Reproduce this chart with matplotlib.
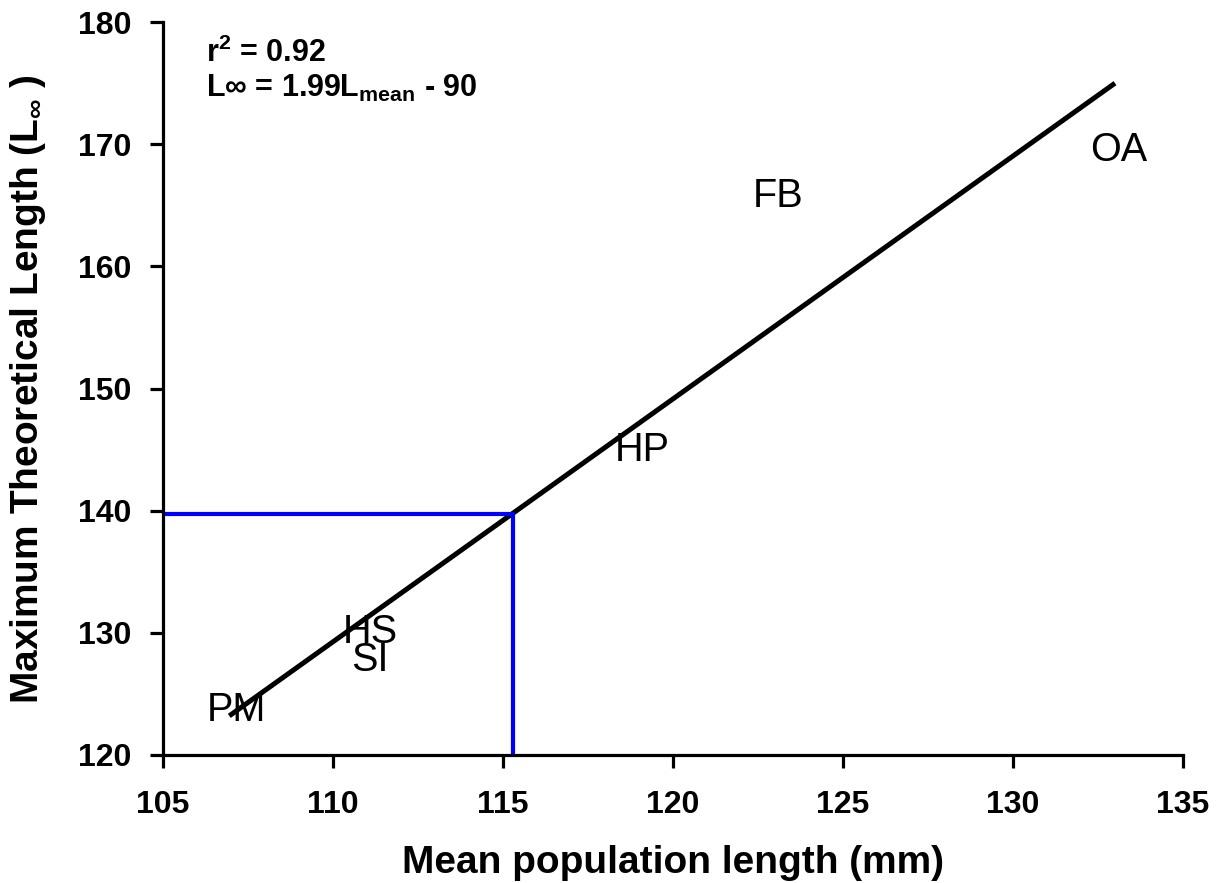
import matplotlib
matplotlib.use('Agg')
from matplotlib import pyplot as plt

plt.rcParams['font.family'] = ['Liberation Sans', 'DejaVu Sans']
plt.rcParams['mathtext.fontset'] = 'custom'
plt.rcParams['mathtext.rm'] = 'Liberation Sans:bold'
plt.rcParams['mathtext.it'] = 'Liberation Sans:bold'
plt.rcParams['mathtext.bf'] = 'Liberation Sans:bold'

# species labels, placed at (mean length, L-infinity)
species = ['PM', 'HS', 'SI', 'HP', 'FB', 'OA']
mean_len = [107.15, 111.1, 111.1, 119.1, 123.1, 133.1]
linf = [123.7, 130.1, 127.8, 145.0, 165.8, 169.5]

# regression line endpoints
fit_x = [106.95, 133.0]
fit_y = [123.2, 175.0]

# blue guide lines
guide_x = 115.3
guide_y = 139.7

fig = plt.figure(figsize=(12.2, 8.83), dpi=100)
ax = fig.add_axes([163 / 1220, 0.145, 1020 / 1220, 0.83])

ax.plot(fit_x, fit_y, color='black', lw=3.6, solid_capstyle='butt')
ax.plot([105, guide_x, guide_x], [guide_y, guide_y, 120], color='#0000ff', lw=3)

for s, x, y in zip(species, mean_len, linf):
    ax.text(x, y, s, fontsize=28.5, ha='center', va='center')

ax.text(0.042, 0.945, r'r$^2$ = 0.92', transform=ax.transAxes, fontsize=22,
        fontweight='bold', va='baseline')
ax.text(0.042, 0.898, 'L\u221e = 1.99L$_{mean}$ - 90', transform=ax.transAxes,
        fontsize=22, fontweight='bold', va='baseline')

ax.set_xlim(105, 135)
ax.set_ylim(120, 180)
ax.set_xticks([105, 110, 115, 120, 125, 130, 135])
ax.set_yticks([120, 130, 140, 150, 160, 170, 180])

for side in ['top', 'right']:
    ax.spines[side].set_visible(False)
for side in ['left', 'bottom']:
    ax.spines[side].set_linewidth(2.3)

ax.tick_params(direction='out', length=9.5, width=2.3, labelsize=23)
ax.tick_params(axis='x', pad=16)
ax.tick_params(axis='y', pad=13)
for lab in ax.get_xticklabels() + ax.get_yticklabels():
    lab.set_fontweight('bold')

ax.set_xlabel('Mean population length (mm)', fontsize=28, fontweight='bold', labelpad=18)
ax.set_ylabel(r'Maximum Theoretical Length (L$_{\infty}$ )', fontsize=28,
              fontweight='bold', labelpad=22)

plt.savefig('out.png', dpi=100)
